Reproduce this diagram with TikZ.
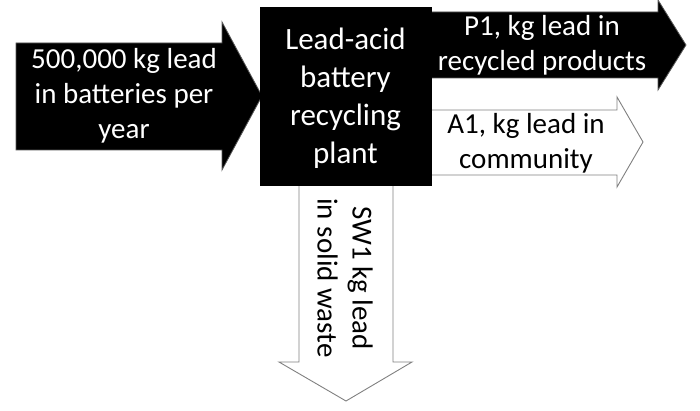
\documentclass[tikz,border=0pt]{standalone}
\usepackage{fontspec}
\setmainfont{Carlito}
\begin{document}
\begin{tikzpicture}[x=1pt,y=-1pt,
  arrowblack/.style={fill=black,draw=gray!70!black,line width=0.8pt},
  arrowwhite/.style={fill=white,draw=gray,line width=0.9pt},
  lbl/.style={align=center,font=\fontsize{29}{35}\selectfont,inner sep=0pt},
  boxlbl/.style={align=center,font=\fontsize{31}{38}\selectfont,inner sep=0pt,text=white}]
\useasboundingbox (0,0) rectangle (700,411);
% input arrow
\draw[arrowblack] (16,43) -- (222,43) -- (222,22) -- (262,96) -- (222,170) -- (222,150) -- (16,150) -- cycle;
% P1 arrow
\draw[arrowblack] (425,12) -- (658,12) -- (658,0) -- (686,45) -- (658,90) -- (658,78) -- (425,78) -- cycle;
% A1 arrow
\draw[arrowwhite] (425,110) -- (617,110) -- (617,97) -- (643,142) -- (617,187) -- (617,175) -- (425,175) -- cycle;
% SW1 arrow
\draw[arrowwhite] (299,180) -- (299,362) -- (279,362) -- (346,401) -- (412,362) -- (393,362) -- (393,180) -- cycle;
% plant box
\node[draw=black,fill=black,minimum width=171pt,minimum height=178pt,inner sep=0pt] (plant) at (345.5,96) {};
\node[boxlbl] (plantlbl) at (345.5,98) {Lead-acid\\battery\\recycling\\plant};
\node[lbl,text=white] (inlbl) at (124,96) {500,000 kg lead\\in batteries per\\year};
\node[lbl,text=white] (p1lbl) at (542,45) {P1, kg lead in\\recycled products};
\node[lbl] (a1lbl) at (526,143) {A1, kg lead in\\community};
\node[lbl,rotate=-90] (swlbl) at (345,278) {SW1 kg lead\\in solid waste};
\end{tikzpicture}
\end{document}
